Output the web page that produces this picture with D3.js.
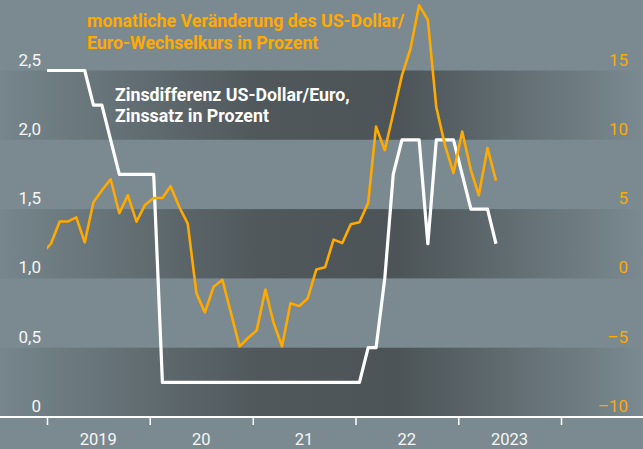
<!DOCTYPE html>
<html>
<head>
<meta charset="utf-8">
<script src="https://cdn.jsdelivr.net/npm/d3@7"></script>
<style>
	body { margin: 0; background: #7b8a90; }
	svg { display: block; font-family: Roboto, "Noto Sans", sans-serif; }
</style>
</head>
<body>
<svg id="chart" width="643" height="449"></svg>
<script>

// monthly values, Dec 2018 .. May 2023
var firstMonth = new Date(2018, 11, 1);
var lastMonth = new Date(2023, 4, 1);

var zinsdifferenz = [
	2.5,
	2.5, 2.5, 2.5, 2.5, 2.5, 2.25, 2.25, 2.0, 1.75, 1.75, 1.75, 1.75,
	1.75, 0.25, 0.25, 0.25, 0.25, 0.25, 0.25, 0.25, 0.25, 0.25, 0.25, 0.25,
	0.25, 0.25, 0.25, 0.25, 0.25, 0.25, 0.25, 0.25, 0.25, 0.25, 0.25, 0.25,
	0.25, 0.5, 0.5, 1.0, 1.75, 2.0, 2.0, 2.0, 1.25, 2.0, 2.0, 2.0,
	1.75, 1.5, 1.5, 1.5, 1.25
];

var wechselkurs = [
	1.8,
	2.5, 4.1, 4.1, 4.4, 2.6, 5.5, 6.35, 7.15, 4.7, 6.0, 4.1, 5.3,
	5.8, 5.8, 6.65, 5.15, 3.95, -1.1, -2.45, -0.6, -0.1, -2.45, -4.9, -4.3,
	-3.75, -0.8, -3.15, -4.9, -1.8, -2.0, -1.45, 0.65, 0.8, 2.8, 2.55, 3.9,
	4.05, 5.45, 10.95, 9.25, 11.9, 14.65, 16.55, 19.7, 18.65, 12.35, 9.6, 7.6,
	10.6, 7.8, 6.0, 9.4, 7.05
];

var leftTicks = [0, 0.5, 1, 1.5, 2, 2.5];
var rightTicks = [-10, -5, 0, 5, 10, 15];
var yearTicks = [2019, 2020, 2021, 2022, 2023, 2024];
var yearLabels = ["2019", "20", "21", "22", "2023"];

var titleOrange = ["monatliche Veränderung des US-Dollar/", "Euro-Wechselkurs in Prozent"];
var titleWhite = ["Zinsdifferenz US-Dollar/Euro,", "Zinssatz in Prozent"];


var W = 643, H = 449;
var ORANGE = "#ffaa00";

var svg = d3.select("#chart");

var months = d3.timeMonth.range(firstMonth, d3.timeMonth.offset(lastMonth, 1))
	.map(function(d) { return new Date(d.getFullYear(), d.getMonth(), 15); });

var x = d3.scaleTime()
	.domain([new Date(2019, 0, 1), new Date(2024, 0, 1)])
	.range([47, 561]);

var yLeft = d3.scaleLinear().domain([0, 2.5]).range([417, 70.5]);
var yRight = d3.scaleLinear().domain([-10, 15]).range([417, 70.5]);


// background + dark bands
svg.append("rect")
	.attr("width", W)
	.attr("height", H)
	.attr("fill", "#7b8a90");

var defs = svg.append("defs");

var grad = defs.append("linearGradient")
	.attr("id", "bandGrad")
	.attr("gradientUnits", "userSpaceOnUse")
	.attr("x1", 0).attr("x2", W)
	.attr("y1", 0).attr("y2", 0);

grad.append("stop").attr("offset", "0").attr("stop-color", "#76868c");
grad.append("stop").attr("offset", "0.4").attr("stop-color", "#50585b");
grad.append("stop").attr("offset", "0.62").attr("stop-color", "#4c5457");
grad.append("stop").attr("offset", "1").attr("stop-color", "#7a8a90");

defs.append("clipPath")
	.attr("id", "plotClip")
	.append("rect")
	.attr("x", x(new Date(2019, 0, 1)))
	.attr("y", 0)
	.attr("width", W)
	.attr("height", H);

var bands = [[0, 0.5], [1, 1.5], [2, 2.5]];

svg.append("g")
	.attr("class", "bands")
	.selectAll("rect")
	.data(bands)
	.enter().append("rect")
	.attr("x", 0)
	.attr("width", W)
	.attr("y", function(d) { return yLeft(d[1]); })
	.attr("height", function(d) { return yLeft(d[0]) - yLeft(d[1]); })
	.attr("fill", "url(#bandGrad)");


// axis labels
svg.append("g")
	.selectAll("text")
	.data(leftTicks)
	.enter().append("text")
	.attr("x", 41)
	.attr("y", function(d) { return yLeft(d) - 5; })
	.attr("text-anchor", "end")
	.attr("fill", "#f6f6f6")
	.attr("font-size", 17)
	.text(function(d) { return d3.format(".1f")(d).replace(".", ",").replace(/^0,0$/, "0"); });

svg.append("g")
	.selectAll("text")
	.data(rightTicks)
	.enter().append("text")
	.attr("x", 628)
	.attr("y", function(d) { return yRight(d) - 5; })
	.attr("text-anchor", "end")
	.attr("fill", ORANGE)
	.attr("font-size", 17)
	.text(function(d) { return d < 0 ? "\u2013" + Math.abs(d) : d; });

var xAxis = d3.axisBottom(x)
	.tickValues(yearTicks.map(function(y) { return new Date(y, 0, 1); }))
	.tickSize(8)
	.tickFormat("");

var gx = svg.append("g")
	.attr("transform", "translate(0,417)")
	.call(xAxis);

gx.select(".domain").remove();
gx.selectAll(".tick line").attr("stroke", "#ffffff").attr("stroke-width", 1.5);

gx.append("line")
	.attr("x1", 0).attr("x2", W)
	.attr("stroke", "#ffffff")
	.attr("stroke-width", 1.8);

svg.append("g")
	.selectAll("text")
	.data(yearLabels)
	.enter().append("text")
	.attr("x", function(d, i) { return x(new Date(yearTicks[i], 6, 2)); })
	.attr("y", 445)
	.attr("text-anchor", "middle")
	.attr("fill", "#f6f6f6")
	.attr("font-size", 16.5)
	.text(function(d) { return d; });


// lines
var lineLeft = d3.line()
	.x(function(d, i) { return x(months[i]); })
	.y(function(d) { return yLeft(d); });

var lineRight = d3.line()
	.x(function(d, i) { return x(months[i]); })
	.y(function(d) { return yRight(d); });

var lines = svg.append("g")
	.attr("clip-path", "url(#plotClip)");

lines.append("path")
	.datum(zinsdifferenz)
	.attr("d", lineLeft)
	.attr("fill", "none")
	.attr("stroke", "#ffffff")
	.attr("stroke-width", 3.2)
	.attr("stroke-linejoin", "round");

lines.append("path")
	.datum(wechselkurs)
	.attr("d", lineRight)
	.attr("fill", "none")
	.attr("stroke", ORANGE)
	.attr("stroke-width", 2.6)
	.attr("stroke-linejoin", "round");


// titles
svg.append("g")
	.selectAll("text")
	.data(titleOrange)
	.enter().append("text")
	.attr("x", 87)
	.attr("y", function(d, i) { return 26.5 + i * 22; })
	.attr("fill", ORANGE)
	.attr("font-size", 17.8)
	.attr("font-weight", "bold")
	.text(function(d) { return d; });

svg.append("g")
	.selectAll("text")
	.data(titleWhite)
	.enter().append("text")
	.attr("x", 115)
	.attr("y", function(d, i) { return 100.5 + i * 21; })
	.attr("fill", "#ffffff")
	.attr("font-size", 17.8)
	.attr("font-weight", "bold")
	.text(function(d) { return d; });

</script>
</body>
</html>
